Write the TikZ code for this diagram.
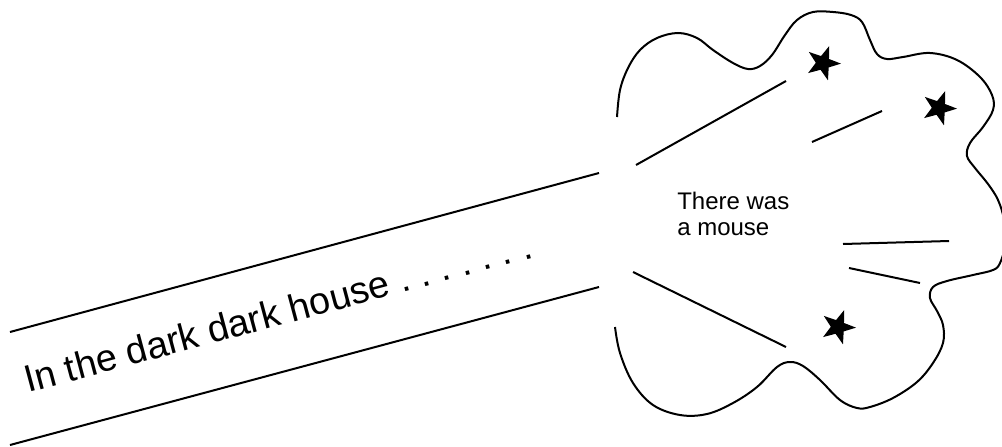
\documentclass[tikz,border=0pt]{standalone}
\usepackage{fontspec}
\setmainfont{Liberation Sans}
\usetikzlibrary{shapes.geometric}

\begin{document}
\begin{tikzpicture}[
    x=0.75pt, y=-0.75pt,
    stroke/.style={line width=1.5pt, color=black},
    sparkle/.style={star, star points=5, star point ratio=2.5, fill=black,
                    inner sep=0pt, minimum size=27pt, rotate=-20},
    story/.style={inner sep=0pt, text=black},
]

% ── Canvas ──
\useasboundingbox (0,0) rectangle (1002,446);

% ── Road into the house ──
\draw[stroke] (10,332) -- (599,173);
\draw[stroke] (10,445) -- (599,287);
\node[story, font=\fontsize{28.4}{31}\selectfont\frenchspacing,
      anchor=base west, rotate=15] (tale) at (28,393)
    {In the dark dark house . . . . . . .};

% ── Cloud outline: two open arcs on the left ──
\draw[stroke] plot[smooth, tension=0.6] coordinates {
    (617,117) (620,90) (628,68) (640,50) (657,38) (678,33) (697,38)
    (713,50) (733,63) (748,69) (760,66) (772,55) (785,35) (797,20)
    (813,12) (833,12) (851,15) (862,22) (870,40) (877,54) (887,59)
    (903,57) (930,53) (957,60) (980,77) (992,95) (993,110) (983,127)
    (970,143) (967,156) (975,168) (988,184) (998,200) (1004,220)
    (1005,245) (1000,263) (993,270) (973,275) (947,281) (933,287)
    (930,298) (937,311) (943,325) (943,343) (933,363) (917,382)
    (893,398) (870,407) (857,408) (840,400) (820,380) (803,366)
    (790,362) (777,367) (757,387) (733,403) (707,414) (680,415)
    (653,405) (633,383) (620,353) (615,327)};

% ── Rays inside the cloud ──
\draw[stroke] (636,165) -- (786,81);
\draw[stroke] (812,142) -- (882,111);
\draw[stroke] (843,244) -- (949,241);
\draw[stroke] (849,268) -- (920,283);
\draw[stroke] (633,272) -- (786,347);

% ── Stars ──
\node[sparkle] (starTop)   at (823,63)  {};
\node[sparkle] (starRight) at (939,108) {};
\node[sparkle] (starLow)   at (838,327) {};

% ── Inside text ──
\node[story, font=\fontsize{18}{19.5}\selectfont, align=left,
      anchor=north west] (mouse) at (677,192) {There was\\a mouse};

\end{tikzpicture}
\end{document}
